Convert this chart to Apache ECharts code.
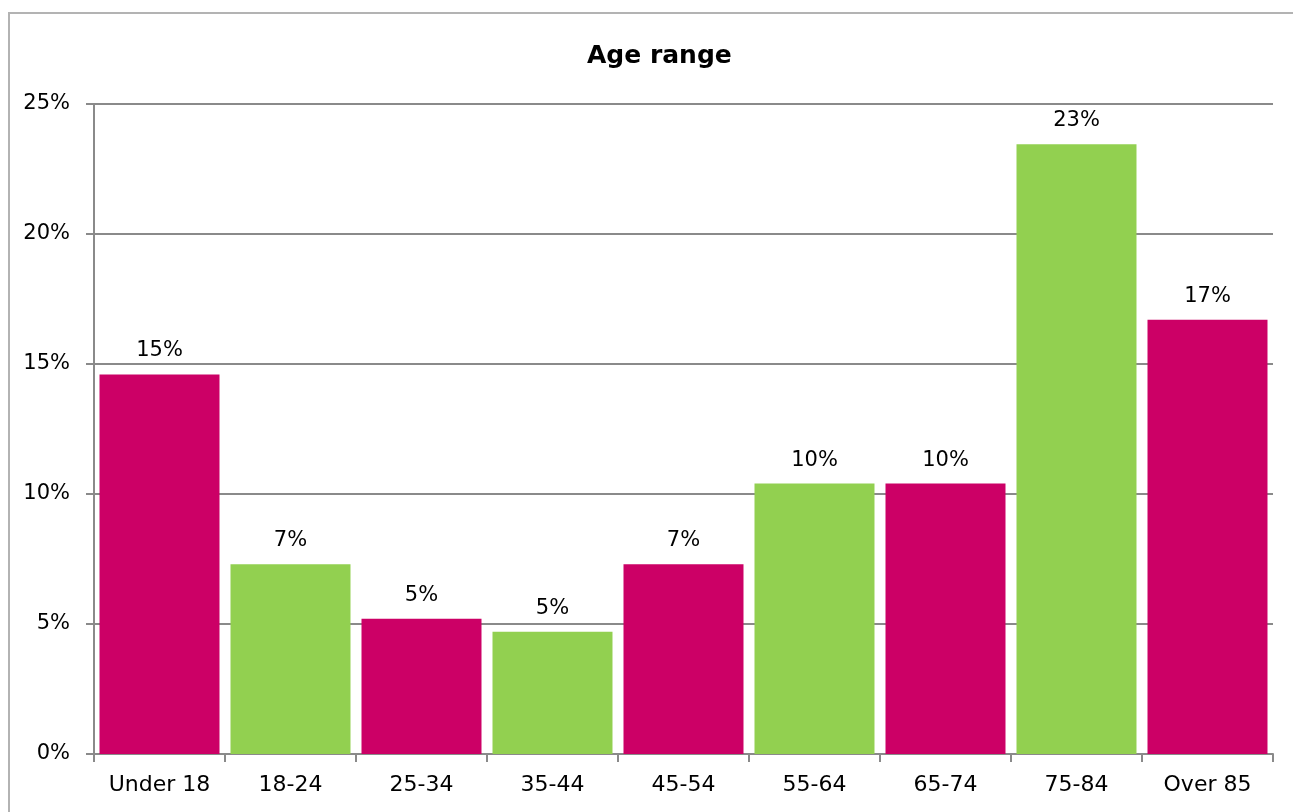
<!DOCTYPE html>
<html>
<head>
<meta charset="utf-8">
<title>Age range</title>
<script src="https://cdn.jsdelivr.net/npm/echarts@6/dist/echarts.min.js"></script>
<style>
  html, body { margin: 0; padding: 0; background: #ffffff; overflow: hidden; }
  #chart { width: 1293px; height: 812px; }
</style>
</head>
<body>
<div id="chart"></div>
<script>
// Age bands and the share of respondents in each (percent)
const categories = ['Under 18', '18-24', '25-34', '35-44', '45-54', '55-64', '65-74', '75-84', 'Over 85'];
const shares = [14.6, 7.3, 5.2, 4.7, 7.3, 10.4, 10.4, 23.45, 16.7];

// Value axis ticks (percent)
const yMin = 0;
const yMax = 25;
const yStep = 5;

// Bars alternate between the two brand colours
const barColors = ['#CC0066', '#92D050'];

const FONT = 'DejaVu Sans';
const GRID_COLOR = '#8a8a8a';

const chart = echarts.init(document.getElementById('chart'), null, { renderer: 'canvas' });

chart.setOption({
  animation: false,
  backgroundColor: '#ffffff',
  graphic: [{
    // chart-area frame; its right and bottom edges run past the page
    type: 'rect',
    z: -10,
    silent: true,
    shape: { x: 9, y: 13, width: 1400, height: 1000 },
    style: { fill: 'none', stroke: '#b3b3b3', lineWidth: 2 }
  }],
  title: {
    text: 'Age range',
    left: 582,
    top: 39,
    textStyle: { fontFamily: FONT, fontSize: 25, fontWeight: 'bold', color: '#000000' }
  },
  grid: { left: 94, right: 20, top: 104, bottom: 58, containLabel: false },
  xAxis: {
    type: 'category',
    data: categories,
    axisLine: { lineStyle: { color: GRID_COLOR, width: 2 } },
    axisTick: { show: true, length: 8, lineStyle: { color: GRID_COLOR, width: 2 } },
    axisLabel: { margin: 20, color: '#000000', fontFamily: FONT, fontSize: 22, interval: 0 },
    splitLine: { show: false }
  },
  yAxis: {
    type: 'value',
    min: yMin,
    max: yMax,
    interval: yStep,
    axisLine: { show: true, lineStyle: { color: GRID_COLOR, width: 2 } },
    axisTick: { show: true, length: 8, lineStyle: { color: GRID_COLOR, width: 2 } },
    axisLabel: {
      margin: 24,
      color: '#000000',
      fontFamily: FONT,
      fontSize: 21,
      formatter: '{value}%'
    },
    splitLine: { show: true, lineStyle: { color: GRID_COLOR, width: 2 } }
  },
  series: [{
    type: 'bar',
    data: shares,
    barCategoryGap: '8.4%',
    itemStyle: {
      color: (p) => barColors[p.dataIndex % 2]
    },
    label: {
      show: true,
      position: 'top',
      distance: 13,
      color: '#000000',
      fontFamily: FONT,
      fontSize: 21,
      formatter: (p) => Math.round(p.value) + '%'
    }
  }]
});
</script>
</body>
</html>
